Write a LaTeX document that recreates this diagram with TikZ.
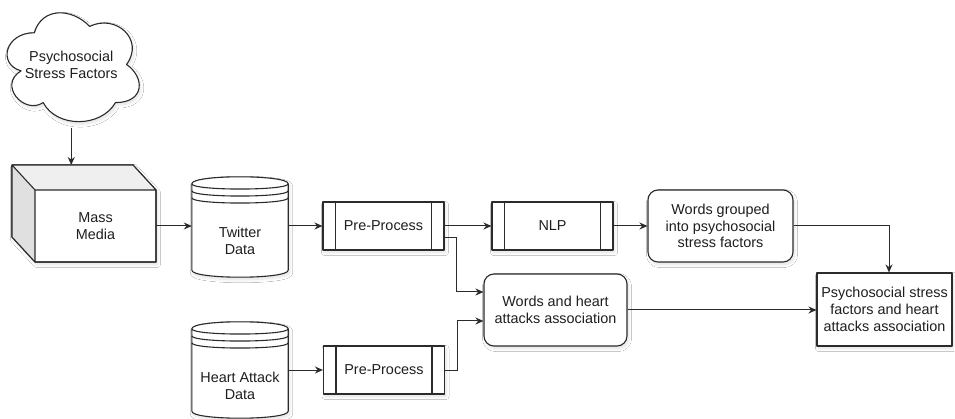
\documentclass[tikz,border=0pt]{standalone}
\usepackage{fontspec}
\setmainfont{Liberation Sans}
\usetikzlibrary{arrows.meta,calc,shadows.blur}
\definecolor{ln}{HTML}{2B2B2B}
\definecolor{txt}{HTML}{1E1E1E}
\definecolor{topface}{HTML}{EFEFEF}
\definecolor{sideface}{HTML}{E0E0E0}
\tikzset{
  shad/.style={blur shadow={shadow xshift=1.5pt, shadow yshift=-2.5pt, shadow blur radius=3pt, shadow blur steps=10, shadow opacity=12}},
  outl/.style={draw=ln, line width=1.1pt, line join=round},
  shp/.style={shad, outl, fill=white},
  lab/.style={text=txt, font=\fontsize{14.4}{16.8}\selectfont, align=center, inner sep=0pt},
  hidden/.style={draw=none, fill=none, inner sep=0pt},
  procbox/.style={shp, lab, minimum width=121pt, minimum height=48pt,
    path picture={\draw[ln, line width=1.1pt]
      ($(path picture bounding box.north west)+(12.5,0)$) -- ($(path picture bounding box.south west)+(12.5,0)$)
      ($(path picture bounding box.north east)+(-12.5,0)$) -- ($(path picture bounding box.south east)+(-12.5,0)$);}},
  roundbox/.style={shp, lab, rounded corners=10pt},
  sqbox/.style={shp, lab},
  arr/.style={draw=ln, line width=1pt, -{Stealth[length=8pt,width=7pt]}},
}
\newcommand\dstore[1]{%
  \path[shp] ($(#1.north west)+(0,7)$) .. controls +(0,-9.33) and +(0,-9.33) .. ($(#1.north east)+(0,7)$)
    -- ($(#1.south east)+(0,-7)$) .. controls +(0,9.33) and +(0,9.33) .. ($(#1.south west)+(0,-7)$) -- cycle;
  \draw[outl] ($(#1.north west)+(0,7)$) .. controls +(0,7) and +(0,7) .. ($(#1.north east)+(0,7)$)
    ($(#1.north west)+(0,14)$) .. controls +(0,7) and +(0,7) .. ($(#1.north east)+(0,14)$)
    ($(#1.north west)+(0,21)$) .. controls +(0,7) and +(0,7) .. ($(#1.north east)+(0,21)$);
}
\begin{document}
\begin{tikzpicture}[x=1pt,y=-1pt]
\useasboundingbox (0,0) rectangle (955,419);
\fill[white] (0,0) rectangle (955,419);

% cloud
\path[shp] (34.375,32.75) .. controls (4.875,32.75) and (-2.5,64.5) .. (21.1,70.85)
  .. controls (-2.5,84.82) and (24.05,115.3) .. (43.225,102.6)
  .. controls (56.5,128) and (100.75,128) .. (115.5,102.6)
  .. controls (145,102.6) and (145,77.2) .. (126.56,64.5)
  .. controls (145,39.1) and (115.5,13.7) .. (89.69,26.4)
  .. controls (71.25,7.35) and (41.75,7.35) .. (34.375,32.75) -- cycle;
\node[hidden, lab, minimum width=147.5pt, minimum height=127pt] (cloud) at (71.25,64.5) {Psychosocial\\Stress Factors};

% cube (Mass Media)
\path[shp] (12,165) -- (133,165) -- (156,190) -- (156,262) -- (35,262) -- (12,237) -- cycle;
\fill[topface] (12,165) -- (133,165) -- (156,190) -- (35,190) -- cycle;
\fill[sideface] (12,165) -- (35,190) -- (35,262) -- (12,237) -- cycle;
\draw[outl] (12,165) -- (133,165) -- (156,190) -- (156,262) -- (35,262) -- (12,237) -- cycle
  (12,165) -- (35,190) -- (156,190) (35,190) -- (35,262);
\node[hidden, lab, minimum width=121pt, minimum height=72pt] (mm) at (95.5,226) {Mass\\Media};
\coordinate (mmtop) at (71.25,165);

% data stores
\node[hidden, minimum width=96pt, minimum height=100pt] (tw) at (240,227) {};
\dstore{tw}
\node[lab] (twtext) at (240,241) {Twitter\\Data};

\node[hidden, minimum width=96pt, minimum height=96pt] (ha) at (240,370) {};
\dstore{ha}
\node[lab] (hatext) at (240,386) {Heart Attack\\Data};

% processes
\node[procbox] (pp1) at (383.5,226) {Pre-Process};
\node[procbox] (nlp) at (552.5,226) {NLP};
\node[procbox] (pp2) at (384,370) {Pre-Process};

% result boxes
\node[roundbox, minimum width=145pt, minimum height=72pt] (wg) at (720.5,226) {Words grouped\\into psychosocial\\stress factors};
\node[roundbox, minimum width=143pt, minimum height=72pt] (wh) at (555.5,310) {Words and heart\\attacks association};
\node[sqbox, minimum width=135pt, minimum height=73pt] (fin) at (884.5,309.5) {Psychosocial stress\\factors and heart\\attacks association};
\coordinate (finin) at ($(fin.north)+(4.5,0)$);

% connectors
\draw[arr] (cloud.south) -- (mmtop);
\draw[arr] (mm.east) -- (mm.east -| tw.west);
\draw[arr] (tw.east |- pp1.west) -- (pp1.west);
\draw[arr] (pp1.east) -- (nlp.west);
\draw[arr] ($(pp1.east)+(0,12)$) -- ++(12,0) |- ($(wh.west)+(0,-18)$);
\draw[arr] (ha.east |- pp2.west) -- (pp2.west);
\draw[arr] (pp2.east) -- ++(12,0) |- ($(wh.west)+(0,11)$);
\draw[arr] (nlp.east) -- (wg.west);
\draw[arr] (wg.east) -| (finin);
\draw[arr] (wh.east) -- (wh.east -| fin.west);
\end{tikzpicture}
\end{document}
